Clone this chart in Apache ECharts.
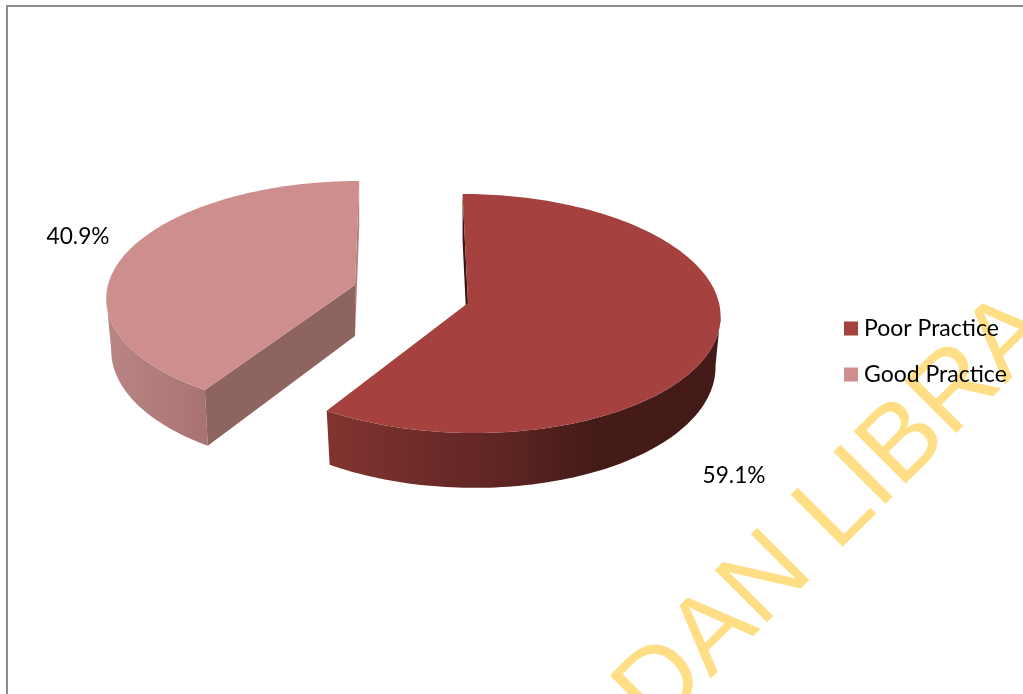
<!DOCTYPE html>
<html>
<head>
<meta charset="utf-8">
<style>html,body{margin:0;padding:0;background:#fff}#chart{width:1023px;height:694px}</style>
<script src="https://cdn.jsdelivr.net/npm/echarts@6/dist/echarts.min.js"></script>
</head>
<body>
<div id="chart"></div>
<script>
// Practice level shares, in percent
const categories = ['Poor Practice', 'Good Practice'];
const shares = [59.1, 40.9];
const topColors = ['#A5423F', '#CE8E8D'];

const FONT = 'Lato, "Noto Sans", sans-serif';
const total = shares.reduce((a, b) => a + b, 0);

// Tilted-disc geometry of each exploded wedge
const wedgeShapes = [
  { ax: 468, ay: 303, rx: 251, ry: 118.6, k: 0.088, lean: 0.05, depth: 50,
    label: [734, 476],
    rim: [[0, '#82342F'], [0.42, '#602624'], [0.68, '#451B18'], [1, '#431A17']],
    cut: '#3A1613' },
  { ax: 355, ay: 285, rx: 247, ry: 114.4, k: 0.1, lean: -0.04, depth: 51,
    label: [78, 237],
    rim: [[0, '#B98685'], [1, '#A87271']],
    cut: '#B07B7B', front: '#8E6461' }
];

// Perspective projection of a rim angle (0 = top, clockwise), dropped by h of the wall height
function project(g, theta, h) {
  const u = Math.sin(theta), v = -Math.cos(theta);
  const s = 1 / (1 - g.k * v);
  const x0 = g.rx * u * s, y0 = g.ry * v * s;
  return [
    g.ax + x0 * (1 - 0.02 * h) + g.lean * y0,
    g.ay + y0 + g.depth * s * h
  ];
}

function arcPoints(g, a0, a1, h) {
  const pts = [], n = 160;
  for (let i = 0; i <= n; i++) pts.push(project(g, a0 + (a1 - a0) * i / n, h));
  return pts;
}

function wedgeRenderer(index) {
  const g = wedgeShapes[index];
  return function (params, api) {
    const value = api.value(0);
    let startShare = 0;
    for (let i = 0; i < index; i++) startShare += shares[i];
    const a0 = startShare / total * Math.PI * 2;
    const a1 = a0 + value / total * Math.PI * 2;

    const topArc = arcPoints(g, a0, a1, 0);
    const lowArc = arcPoints(g, a0, a1, 1);
    const apexTop = [g.ax, g.ay];
    const apexLow = [g.ax, g.ay + g.depth];

    // the rim is visible from the front corner of the wedge out to its silhouette point
    const xs = topArc.map(p => p[0]);
    const edgeX = index === 0 ? Math.max.apply(null, xs) : Math.min.apply(null, xs);
    const edgeAt = xs.indexOf(edgeX);
    const frontAt = index === 0 ? topArc.length - 1 : 0;
    const from = Math.min(edgeAt, frontAt), to = Math.max(edgeAt, frontAt) + 1;
    const rimTop = topArc.slice(from, to);
    const rimLow = lowArc.slice(from, to);
    const rimXs = rimTop.concat(rimLow).map(p => p[0]);
    const minX = Math.min.apply(null, rimXs), maxX = Math.max.apply(null, rimXs);

    const poly = (points, fill) => ({ type: 'polygon', shape: { points }, style: { fill } });
    const children = [];

    // outer rim wall
    children.push(poly(rimTop.concat(rimLow.slice().reverse()), {
      type: 'linear', global: true, x: minX, y: 0, x2: maxX, y2: 0,
      colorStops: g.rim.map(r => ({ offset: r[0], color: r[1] }))
    }));
    // wall along the 12 o'clock cut
    const backEdge = index === 0 ? 0 : topArc.length - 1;
    children.push(poly([topArc[backEdge], apexTop, apexLow, lowArc[backEdge]], g.cut));
    // wall along the other cut, only facing the viewer on the left wedge
    if (g.front) {
      children.push(poly([apexTop, topArc[frontAt], lowArc[frontAt], apexLow], g.front));
    }
    // top face
    children.push(poly([apexTop].concat(topArc), topColors[index]));
    // value label
    children.push({
      type: 'text',
      x: g.label[0], y: g.label[1],
      style: { text: value.toFixed(1) + '%', fill: '#000', font: '22.7px ' + FONT, align: 'center', verticalAlign: 'middle' }
    });
    return { type: 'group', children };
  };
}

const chart = echarts.init(document.getElementById('chart'), null, { renderer: 'canvas' });
chart.setOption({
  animation: false,
  backgroundColor: '#fff',
  legend: {
    orient: 'vertical',
    left: 839, top: 312,
    itemWidth: 14, itemHeight: 14, itemGap: 23,
    icon: 'rect',
    selectedMode: false,
    textStyle: { color: '#000', fontFamily: FONT, fontSize: 23, padding: [0, 0, 0, 1] },
    data: categories
  },
  series: categories.map((name, i) => ({
    type: 'custom',
    name,
    coordinateSystem: 'none',
    silent: true,
    itemStyle: { color: topColors[i] },
    renderItem: wedgeRenderer(i),
    data: [[shares[i]]]
  })),
  graphic: [
    // sheet frame, open towards the right and bottom
    { type: 'polyline', silent: true, z: 1, shape: { points: [[7, 694], [7, 6], [1023, 6]] },
      style: { stroke: '#8C8C8C', lineWidth: 2, fill: null } },
    // diagonal library stamp behind the legend
    { type: 'text', silent: true, z: 0, x: 597, y: 675, rotation: Math.PI / 4,
      style: { text: 'DAN LIBRA', fill: '#FFDE85', font: '107px "Liberation Sans", Arial, sans-serif',
               align: 'left', verticalAlign: 'top' } }
  ]
});
</script>
</body>
</html>
